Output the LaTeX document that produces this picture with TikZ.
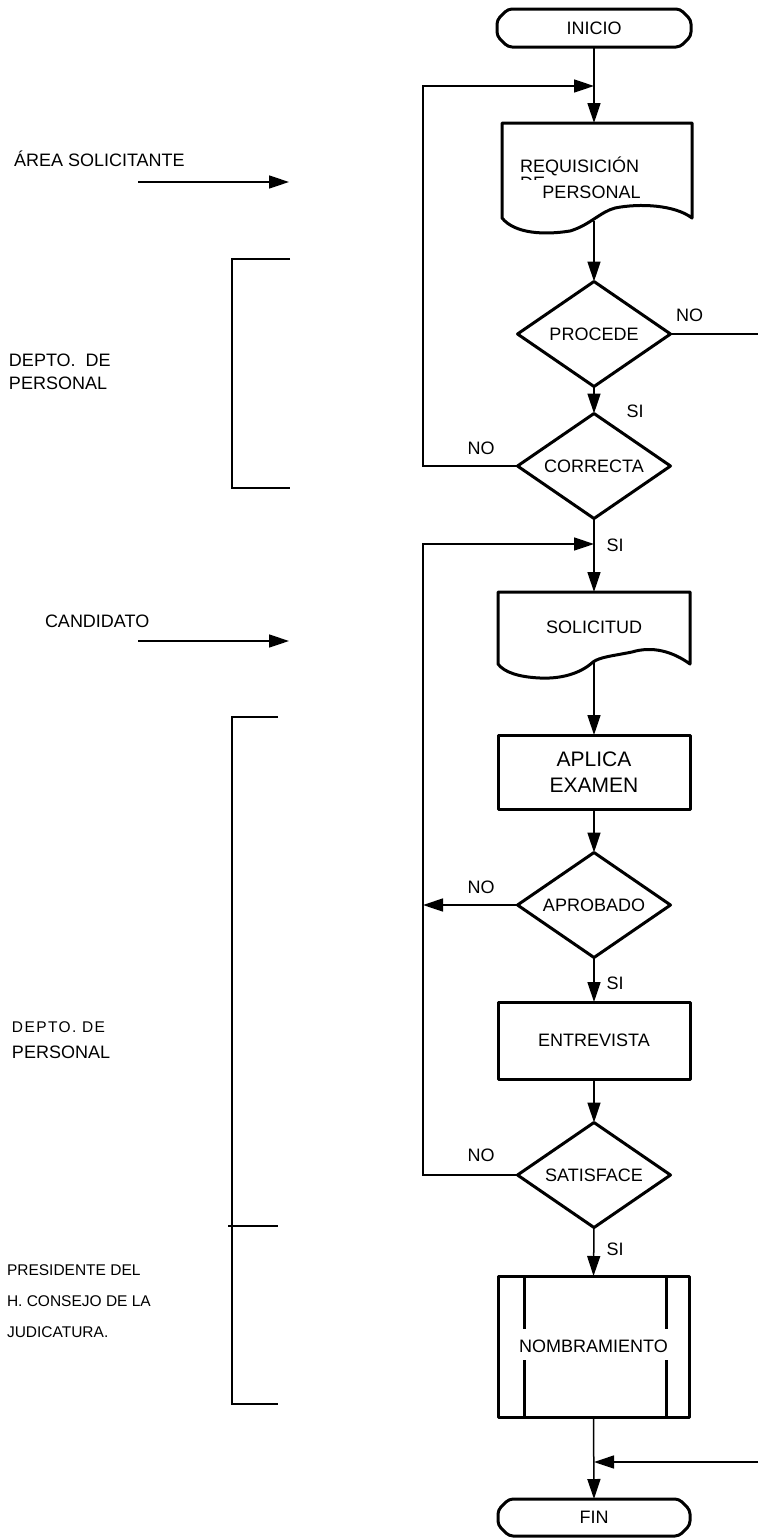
\documentclass[tikz,border=0pt]{standalone}
\usepackage{fontspec}
\setmainfont{Liberation Sans}
\usetikzlibrary{arrows.meta,shapes.geometric}
\newcommand\fsnorm{\fontsize{18pt}{23pt}\selectfont}
\newcommand\fssmall{\fontsize{15.5pt}{31pt}\selectfont}
\newcommand\fsbig{\fontsize{21pt}{26pt}\selectfont}
\begin{document}
\begin{tikzpicture}[x=1pt,y=-1pt,
 every node/.style={font=\fsnorm, inner sep=0pt, outer sep=0pt},
 box/.style={draw, line width=3pt, line join=round},
 conn/.style={line width=1.5pt},
 arr/.style={conn, -{Triangle[length=20pt,width=13pt]}},
 dec/.style={diamond, box, minimum width=153pt, minimum height=105pt, aspect=1.457},
 proc/.style={rectangle, box, minimum width=192pt},
 ghost/.style={rectangle, minimum width=192pt},
 lbl/.style={anchor=west},
]
\useasboundingbox (0,0) rectangle (758,1539);

% ---------- terminals ----------
\node[ghost, minimum width=194pt, minimum height=38pt] (inicio) at (594,28) {INICIO};
\draw[box, rounded corners=4pt] (508,9) -- (680,9) -- (691,20) -- (691,36) -- (680,47) -- (508,47) -- (497,36) -- (497,20) -- cycle;

\node[ghost, minimum width=192pt, minimum height=37pt] (fin) at (594,1517.5) {FIN};
\draw[box, rounded corners=4pt] (509,1499) -- (679,1499) -- (690,1510) -- (690,1525) -- (679,1536) -- (509,1536) -- (498,1525) -- (498,1510) -- cycle;

% ---------- REQUISICION document ----------
\node[ghost, minimum width=190pt, minimum height=98pt] (req) at (594,172) {};
\draw[box] (502,123) -- (692,123) -- (692,218)
  .. controls (675,205) and (640,203) .. (615,208)
  .. controls (600,212) and (590,225) .. (570,231)
  .. controls (545,235) and (515,234) .. (502,218) -- cycle;
\node[anchor=base west] (reqa) at (520,172) {REQUISICIÓN};
\node[anchor=west] (reqb) at (520,183.5) {DE};
\node[fill=white, minimum width=153pt, text height=17pt, text depth=4pt, inner sep=1pt] (reqc) at (591.5,191.5) {PERSONAL};

% ---------- SOLICITUD document ----------
\node[ghost, minimum height=70pt] (sol) at (594,627) {SOLICITUD};
\draw[box] (498,592) -- (690,592) -- (690,664)
  .. controls (672,651) and (652,646) .. (632,652)
  .. controls (612,656) and (600,657) .. (593,662)
  .. controls (580,674) and (560,679) .. (540,678)
  .. controls (518,677) and (504,672) .. (498,664) -- cycle;

% ---------- decisions and processes ----------
\node[dec] (procede) at (594,334) {PROCEDE};
\node[dec] (correcta) at (594,466) {CORRECTA};
\node[proc, minimum height=74pt, align=center, font=\fsbig] (aplica) at (594,772) {APLICA\\EXAMEN};
\node[dec] (aprobado) at (594,905) {APROBADO};
\node[proc, minimum height=77pt] (entrevista) at (594,1040.5) {ENTREVISTA};
\node[dec] (satisface) at (594,1175) {SATISFACE};
\node[proc, minimum width=191pt, minimum height=141pt] (nombr) at (593.5,1346.5) {NOMBRAMIENTO};
\draw[box] (524,1276) -- (524,1329) (524,1360) -- (524,1417);
\draw[box] (666,1276) -- (666,1329) (666,1360) -- (666,1417);

% ---------- connector coordinates ----------
\coordinate (loopA) at (423,86);
\coordinate (joinA) at (594,86);
\coordinate (loopB) at (423,544);
\coordinate (joinB) at (594,544);
\coordinate (outR) at (758,334);
\coordinate (inR) at (758,1462);
\coordinate (joinC) at (594,1462);

% ---------- connectors ----------
\draw[arr] (inicio.south) -- (req.north);
\draw[arr] (correcta.west) -- (correcta.west -| loopA) -- (loopA) -- (joinA);
\draw[arr] (req.south) -- (procede.north);
\draw[conn] (procede.east) -- (outR);
\draw[arr] (procede.south) -- (correcta.north);
\draw[arr] (correcta.south) -- (sol.north);
\draw[arr] (satisface.west) -- (satisface.west -| loopB) -- (loopB) -- (joinB);
\draw[arr] (sol.south) -- (aplica.north);
\draw[arr] (aplica.south) -- (aprobado.north);
\draw[arr] (aprobado.west) -- (aprobado.west -| loopB);
\draw[arr] (aprobado.south) -- (entrevista.north);
\draw[arr] (entrevista.south) -- (satisface.north);
\draw[arr] (satisface.south) -- (nombr.north);
\draw[arr] (nombr.south) -- (fin.north);
\draw[arr] (inR) -- (joinC);

% ---------- branch labels ----------
\node (noP) at (689.5,315) {NO};
\node (siP) at (635,411) {SI};
\node (noC) at (481,448) {NO};
\node (siC) at (615,545) {SI};
\node (noA) at (481,887) {NO};
\node (siA) at (615,983) {SI};
\node (noS) at (481,1155) {NO};
\node (siS) at (615,1249) {SI};

% ---------- left column ----------
\node[anchor=base west] (area) at (14,166) {ÁREA SOLICITANTE};
\coordinate (areaA) at (138,182);
\coordinate (areaB) at (289,182);
\draw[arr] (areaA) -- (areaB);

\draw[conn] (290,259) -- (232,259) -- (232,488) -- (290,488);
\node[lbl, align=left] (depto1) at (9,371.5) {DEPTO.\ \ DE\\PERSONAL};

\node[lbl] (cand) at (45,621) {CANDIDATO};
\coordinate (candA) at (138,641);
\coordinate (candB) at (289,641);
\draw[arr] (candA) -- (candB);

\draw[conn] (278,717) -- (232,717) -- (232,1404) -- (278,1404);
\draw[conn] (228,1226) -- (278,1226);

\node[lbl, font=\fontsize{15.5pt}{18pt}\selectfont\addfontfeature{LetterSpace=9}] (depto2a) at (12,1027) {DEPTO. DE};
\node[lbl] (depto2b) at (12,1052) {PERSONAL};

\node[lbl, align=left, font=\fssmall] (pres) at (7,1301) {PRESIDENTE DEL\\H. CONSEJO DE LA\\JUDICATURA.};
\end{tikzpicture}
\end{document}
